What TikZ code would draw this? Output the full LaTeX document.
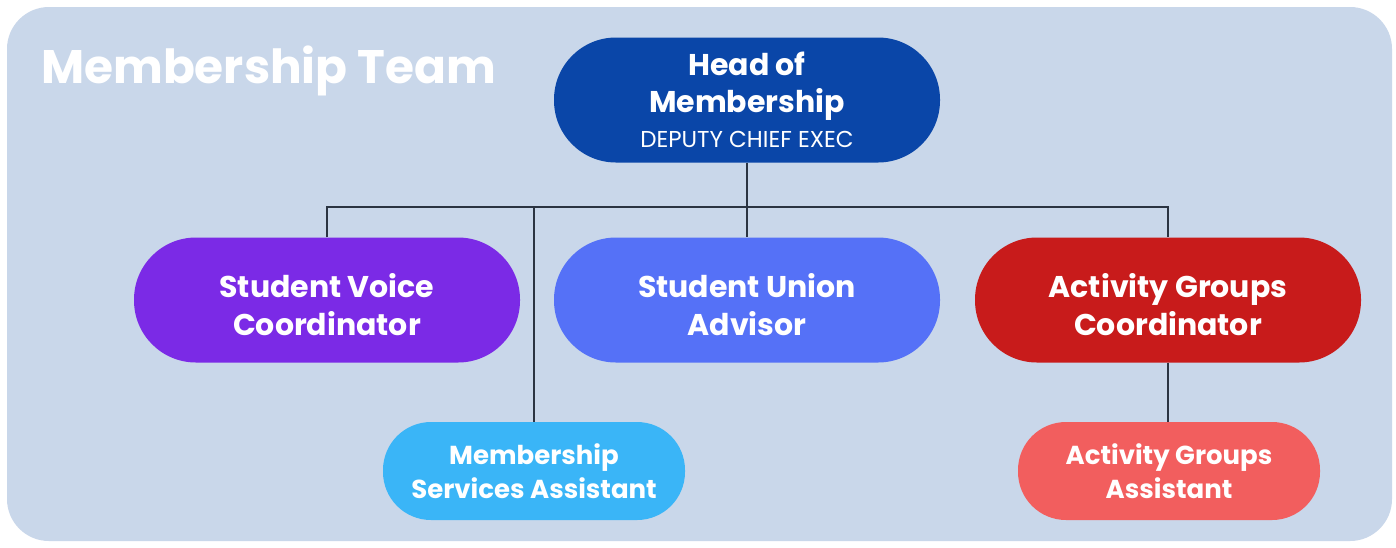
\documentclass[tikz,border=0pt]{standalone}
\usepackage{fontspec}
\setmainfont{Poppins}
\definecolor{panel}{HTML}{C9D7EA}
\definecolor{headc}{HTML}{0A46A8}
\definecolor{voicec}{HTML}{7B2AE6}
\definecolor{unionc}{HTML}{5571F7}
\definecolor{actc}{HTML}{C81B1B}
\definecolor{msac}{HTML}{3AB5F7}
\definecolor{agac}{HTML}{F25E5E}
\definecolor{linec}{HTML}{2B3442}
\begin{document}
\begin{tikzpicture}[x=1pt,y=-1pt,
  pill/.style={rectangle, rounded corners=62pt, minimum width=386pt, minimum height=125pt,
     text=white, align=center, inner sep=0pt, font=\fontsize{30}{38}\selectfont\bfseries},
  role/.style={pill, text height=80pt, text depth=10pt},
  small/.style={pill, rounded corners=48pt, minimum width=302pt, minimum height=98pt,
     font=\fontsize{26}{34}\selectfont\bfseries},
  link/.style={draw=linec, line width=1.6pt}]
\useasboundingbox (0,0) rectangle (1396,547);
\fill[white] (0,0) rectangle (1396,547);
\fill[panel, rounded corners=42pt] (7,7) rectangle (1392,541);
\node[text=white, anchor=base west, inner sep=0pt, font=\fontsize{47}{50}\selectfont\bfseries] (title) at (41,83) {Membership Team};
\node[pill, fill=headc, font=\fontsize{30}{37}\selectfont\bfseries] (head) at (747,100) {Head of\\Membership\\[-2pt]{\fontsize{23}{26}\selectfont\mdseries DEPUTY CHIEF EXEC}};
\node[role, fill=voicec] (voice) at (327,300) {Student Voice\\Coordinator};
\node[role, fill=unionc] (union) at (747,300) {Student Union\\Advisor};
\node[role, fill=actc] (act) at (1168,300) {Activity Groups\\Coordinator};
\node[small, fill=msac] (msa) at (534,471) {Membership\\Services Assistant};
\node[small, fill=agac] (aga) at (1169,471) {Activity Groups\\Assistant};
\coordinate (bus) at (747,207);
\draw[link] (head.south) -- (bus);
\draw[link] (voice.north) |- (bus) -| (act.north);
\draw[link] (bus) -- (union.north);
\draw[link] (msa.north) -- (msa.north |- bus);
\draw[link] (act.south) -- (aga.north -| act.south);
\end{tikzpicture}
\end{document}
